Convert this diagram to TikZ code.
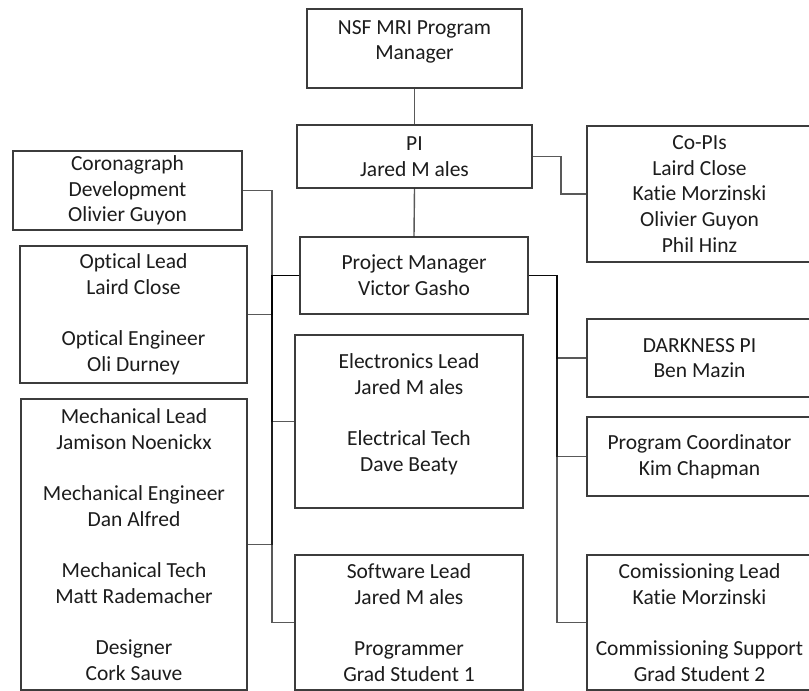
\documentclass[tikz,border=0pt]{standalone}
\usepackage{fontspec}
\setmainfont{Carlito}[Ligatures=NoCommon]
\definecolor{boxline}{HTML}{3C3C3C}
\definecolor{txt}{HTML}{1C1C1C}
\begin{document}
\begin{tikzpicture}[x=1pt,y=-1pt,
  box/.style={draw=boxline, line width=1.4pt, fill=white, align=center,
    inner sep=0pt, text=txt, font=\fontsize{21.5}{25.7}\selectfont,
    minimum width=#1},
  conn/.style={draw=black, draw opacity=0.65, line width=1.4pt}]
\useasboundingbox[fill=white] (0,0) rectangle (809,691);
% coordinates for the elbows
\coordinate (tl) at (272,0);
\coordinate (tr) at (557,0);
\coordinate (cp) at (561,0);
% nodes
\node[box=215pt, minimum height=79pt] (nsf) at (414.5,48.5)
  {NSF MRI Program\\Manager\rule[-17pt]{0pt}{0pt}};
\node[box=235pt, minimum height=63pt] (pi) at (414.5,156.5)
  {PI\\Jared M ales};
\node[box=228pt, minimum height=77pt] (pm) at (414,275.5)
  {Project Manager\\Victor Gasho};
\node[box=229pt, minimum height=79pt] (cor) at (127.5,190.5)
  {Coronagraph\\Development\\Olivier Guyon};
\node[box=227pt, minimum height=137pt] (opt) at (133.5,314.5)
  {Optical Lead\\Laird Close\\[25.7pt]Optical Engineer\\Oli Durney};
\node[box=226pt, minimum height=291pt] (mech) at (134,544.5)
  {Mechanical Lead\\Jamison Noenickx\\[25.7pt]Mechanical Engineer\\Dan Alfred\\[25.7pt]Mechanical Tech\\Matt Rademacher\\[25.7pt]Designer\\Cork Sauve};
\node[box=228pt, minimum height=173pt] (elec) at (409,421.5)
  {Electronics Lead\\Jared M ales\\[25.7pt]Electrical Tech\\Dave Beaty\rule[-18pt]{0pt}{0pt}};
\node[box=228pt, minimum height=135pt] (soft) at (409,622.5)
  {Software Lead\\Jared M ales\\[25.7pt]Programmer\\Grad Student 1};
\node[box=225pt, minimum height=136pt] (copi) at (699.5,194)
  {Co-PIs\\Laird Close\\Katie Morzinski\\Olivier Guyon\\Phil Hinz};
\node[box=225pt, minimum height=78pt] (dark) at (699.5,358)
  {DARKNESS PI\\Ben Mazin};
\node[box=225pt, minimum height=79pt] (pc) at (699.5,456.5)
  {Program Coordinator\\Kim Chapman};
\node[box=225pt, minimum height=135pt] (comm) at (699.5,622.5)
  {Comissioning Lead\\Katie Morzinski\\[25.7pt]Commissioning Support\\Grad Student 2};
% connectors
\draw[conn] (nsf.south) -- (pi.north);
\draw[conn] (pi.south) -- (pm.north);
\draw[conn] (pi.east) -- (pi.east -| cp) |- (copi.west);
\draw[conn] (pm.west) -- (pm.west -| tl) |- (cor.east);
\draw[conn] (pm.west) -- (pm.west -| tl) |- (opt.east);
\draw[conn] (pm.west) -- (pm.west -| tl) |- (mech.east);
\draw[conn] (pm.west) -- (pm.west -| tl) |- (elec.west);
\draw[conn] (pm.west) -- (pm.west -| tl) |- (soft.west);
\draw[conn] (pm.east) -- (pm.east -| tr) |- (dark.west);
\draw[conn] (pm.east) -- (pm.east -| tr) |- (pc.west);
\draw[conn] (pm.east) -- (pm.east -| tr) |- (comm.west);
\end{tikzpicture}
\end{document}
